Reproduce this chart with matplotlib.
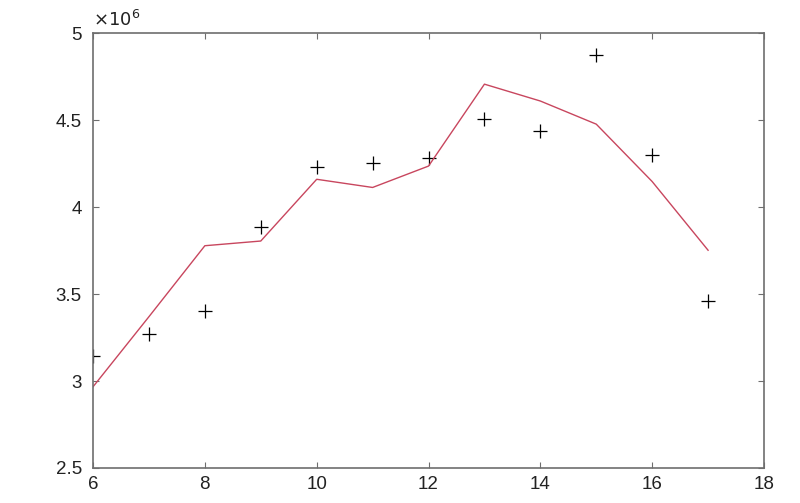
import matplotlib
matplotlib.use("Agg")
import matplotlib.pyplot as plt
from matplotlib.ticker import FuncFormatter

plt.rcParams['font.family'] = ['Liberation Sans', 'DejaVu Sans']

x = [6, 7, 8, 9, 10, 11, 12, 13, 14, 15, 16, 17]
observed = [3.144e6, 3.27e6, 3.40e6, 3.887e6, 4.23e6, 4.255e6, 4.28e6,
            4.505e6, 4.44e6, 4.875e6, 4.30e6, 3.46e6]
fitted = [2.967e6, 3.37e6, 3.778e6, 3.805e6, 4.16e6, 4.113e6, 4.236e6,
          4.707e6, 4.61e6, 4.477e6, 4.147e6, 3.752e6]
xticks = [6, 8, 10, 12, 14, 16, 18]
yticks = [2.5e6, 3e6, 3.5e6, 4e6, 4.5e6, 5e6]

fig = plt.figure(figsize=(8.0, 5.03), dpi=100)
ax = fig.add_axes([0.1163, 0.0696, 0.955 - 0.1163, 0.934 - 0.0696])

ax.plot(x, observed, linestyle='none', marker='+', color='black',
        markersize=10, markeredgewidth=0.9)
ax.plot(x, fitted, color='#c8465e', linewidth=1.0)

ax.set_xlim(6, 18)
ax.set_ylim(2.5e6, 5e6)
ax.set_xticks(xticks)
ax.set_yticks(yticks)
ax.yaxis.set_major_formatter(FuncFormatter(lambda v, p: '%g' % (v / 1e6)))

ax.text(0.0, 1.008, r'$\times10^{6}$', transform=ax.transAxes,
        ha='left', va='bottom', fontsize=13, color='#222222',
        fontfamily='Liberation Sans')

for s in ax.spines.values():
    s.set_color('#6e6e6e')
    s.set_linewidth(1.2)
ax.tick_params(direction='in', top=True, right=True, length=4,
               color='#6e6e6e', labelsize=13.5, labelcolor='#222222')
ax.tick_params(axis='y', pad=8)
ax.tick_params(axis='x', pad=6)

fig.savefig('out.png', dpi=100)
